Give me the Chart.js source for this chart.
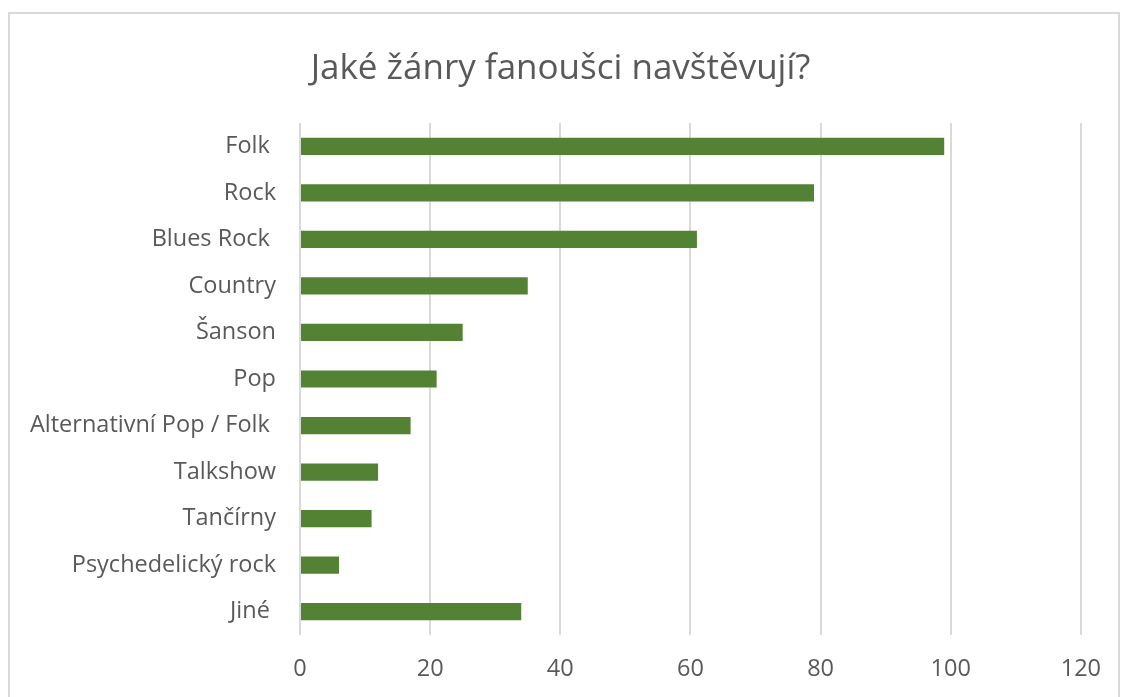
<!DOCTYPE html>
<html lang="cs">
<head>
<meta charset="utf-8">
<title>Jaké žánry fanoušci navštěvují?</title>
<script src="https://cdn.jsdelivr.net/npm/chart.js@4/dist/chart.umd.min.js"></script>
<style>
  html, body { margin: 0; padding: 0; background: #fff; overflow: hidden; }
  .frame {
    position: absolute; left: 8px; top: 12px;
    width: 1108px; height: 720px;
    border: 2px solid #d9d9d9;
  }
  .wrap { position: absolute; left: 0; top: 0; width: 1121px; height: 697px; }
</style>
</head>
<body>
<div class="frame"></div>
<div class="wrap"><canvas id="genreChart"></canvas></div>
<script>
// ---- Data ----
const genres = [
  'Folk ', 'Rock', 'Blues Rock ', 'Country', 'Šanson', 'Pop',
  'Alternativní Pop / Folk ', 'Talkshow', 'Tančírny', 'Psychedelický rock', 'Jiné '
];
const fans = [99, 79, 61, 35, 25, 21, 17, 12, 11, 6, 34];
const xTicks = [0, 20, 40, 60, 80, 100, 120];

// ---- Style ----
const FONT = "'Open Sans', sans-serif";
const GREY = '#595959';
const GREEN = '#548235';

// the y labels reach into the left padding — widen the label clip box
const unclipLabels = {
  id: 'unclipLabels',
  afterLayout(chart) { chart.scales.y.left = 0; }
};

function init() {
  const ctx = document.getElementById('genreChart');
  new Chart(ctx, {
    type: 'bar',
    data: {
      labels: genres,
      datasets: [{
        label: 'Fanoušci',
        data: fans,
        backgroundColor: GREEN,
        borderWidth: 0,
        categoryPercentage: 1,
        barPercentage: 0.37
      }]
    },
    options: {
      indexAxis: 'y',
      responsive: true,
      maintainAspectRatio: false,
      animation: false,
      // symmetric side padding keeps the title centred on the page
      layout: { padding: { left: 39, right: 39, top: 0, bottom: 0 } },
      plugins: {
        legend: { display: false },
        tooltip: { enabled: false },
        title: {
          display: true,
          text: 'Jaké žánry fanoušci navštěvují?',
          color: GREY,
          font: { size: 35, weight: 'normal', family: FONT },
          padding: { top: 48, bottom: 33 }
        }
      },
      scales: {
        x: {
          min: 0,
          max: 120,
          afterBuildTicks: (scale) => { scale.ticks = xTicks.map(v => ({ value: v })); },
          grid: { color: '#d9d9d9', lineWidth: 2, drawTicks: false },
          border: { display: false },
          ticks: { color: GREY, padding: 20, font: { size: 23.5, family: FONT } },
          afterFit: (scale) => { scale.height = 62; }
        },
        y: {
          grid: { display: false, drawTicks: false },
          border: { display: false },
          ticks: { color: GREY, padding: 24, font: { size: 23.5, family: FONT } },
          afterFit: (scale) => { scale.width = 261; }
        }
      }
    },
    plugins: [unclipLabels]
  });
}

init();
</script>
</body>
</html>
